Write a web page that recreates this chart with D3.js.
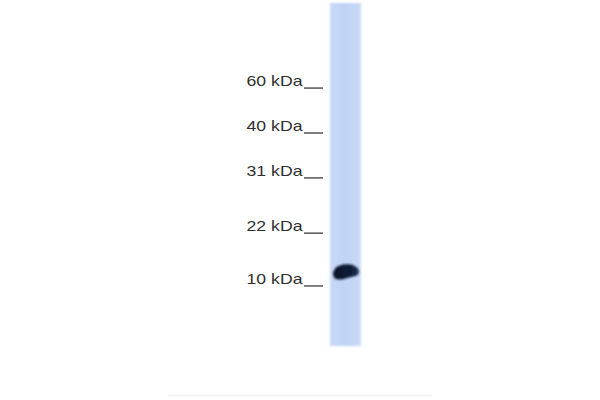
<!DOCTYPE html>
<html>
<head>
<meta charset="utf-8">
<script src="https://d3js.org/d3.v7.min.js"></script>
<style>
  body { margin: 0; background: #fff; }
  svg { display: block; }
  .marker text { font-family: "Liberation Sans", Arial, sans-serif; fill: #2e2e2e; }
</style>
</head>
<body>
<script>
// molecular weight ladder and where each marker ran (relative mobility, 0 = well, 1 = lane end)
var markerLabels = ["60 kDa", "40 kDa", "31 kDa", "22 kDa", "10 kDa"];
var markerRf = [0.248, 0.379, 0.510, 0.671, 0.825];

// detected band in the single lane
var bandRf = [0.783];
var bandIntensity = [1.0];

var width = 600, height = 400;

var svg = d3.select("body").append("svg")
    .attr("width", width)
    .attr("height", height);

// lane geometry
var laneX = 330, laneW = 31, laneTop = 3, laneBottom = 346;

var y = d3.scaleLinear().domain([0, 1]).range([laneTop, laneBottom]);

var defs = svg.append("defs");
var blur = defs.append("filter").attr("id", "soft")
    .attr("x", "-20%").attr("y", "-20%").attr("width", "140%").attr("height", "140%");
blur.append("feGaussianBlur").attr("stdDeviation", 0.8);

var bandBlur = defs.append("filter").attr("id", "bandsoft")
    .attr("x", "-30%").attr("y", "-50%").attr("width", "160%").attr("height", "200%");
bandBlur.append("feGaussianBlur").attr("stdDeviation", 1.0);

var laneGrad = defs.append("linearGradient").attr("id", "laneGrad")
    .attr("x1", 0).attr("x2", 1).attr("y1", 0).attr("y2", 0);
laneGrad.append("stop").attr("offset", "0%").attr("stop-color", "#c8d9f6");
laneGrad.append("stop").attr("offset", "50%").attr("stop-color", "#c0d3f5");
laneGrad.append("stop").attr("offset", "100%").attr("stop-color", "#cadbf7");

var bandGrad = defs.append("linearGradient").attr("id", "bandGrad")
    .attr("x1", 0).attr("x2", 1).attr("y1", 0).attr("y2", 0);
bandGrad.append("stop").attr("offset", "0%").attr("stop-color", "#0a1428");
bandGrad.append("stop").attr("offset", "70%").attr("stop-color", "#0f1d38");
bandGrad.append("stop").attr("offset", "100%").attr("stop-color", "#23375e");

// the lane
svg.append("rect")
    .attr("x", laneX).attr("y", laneTop)
    .attr("width", laneW).attr("height", laneBottom - laneTop)
    .attr("fill", "url(#laneGrad)")
    .attr("filter", "url(#soft)");

// band outline (bean shaped, relative to band centre)
var bandShape = [[-13, 2], [-10, -4], [-3, -7], [5, -7], [11, -4], [13, 0],
                 [11, 4], [3, 6], [-5, 8], [-11, 7]];
var bandLine = d3.line().curve(d3.curveCardinalClosed.tension(0.2));

svg.selectAll("path.band")
    .data(bandRf)
    .enter().append("path")
    .attr("class", "band")
    .attr("transform", function (d) { return "translate(" + (laneX + 16) + "," + y(d) + ")"; })
    .attr("d", bandLine(bandShape))
    .attr("fill", "url(#bandGrad)")
    .attr("opacity", function (d, i) { return bandIntensity[i]; })
    .attr("filter", "url(#bandsoft)");

// marker labels with their tick dashes
var m = svg.selectAll("g.marker")
    .data(markerLabels)
    .enter().append("g")
    .attr("class", "marker")
    .attr("transform", function (d, i) { return "translate(0," + y(markerRf[i]) + ")"; });

m.append("text")
    .attr("x", 302.5)
    .attr("y", -2)
    .attr("text-anchor", "end")
    .attr("font-size", 15)
    .attr("textLength", 56)
    .attr("lengthAdjust", "spacingAndGlyphs")
    .text(function (d) { return d; });

m.append("line")
    .attr("x1", 304).attr("x2", 323)
    .attr("y1", 0).attr("y2", 0)
    .attr("stroke", "#3a3a3a")
    .attr("stroke-width", 1.3);

// faint rule at the very bottom of the image
svg.append("line")
    .attr("x1", 168).attr("x2", 432)
    .attr("y1", 395.5).attr("y2", 395.5)
    .attr("stroke", "#f4f4f4")
    .attr("stroke-width", 2);
</script>
</body>
</html>
